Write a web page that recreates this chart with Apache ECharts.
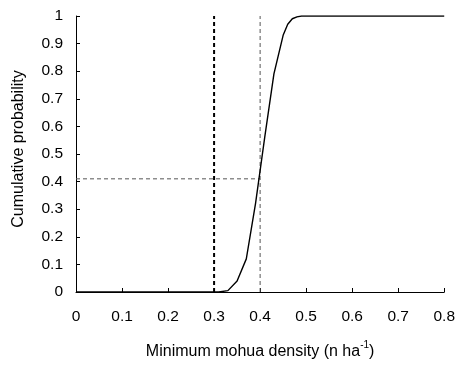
<!DOCTYPE html>
<html>
<head>
<meta charset="utf-8">
<script src="https://cdn.jsdelivr.net/npm/echarts@6/dist/echarts.min.js"></script>
<style>html,body{margin:0;padding:0;background:#fff}#c{width:458px;height:367px}</style>
</head>
<body>
<div id="c"></div>
<script>
// Data
var density = [0, 0.31, 0.33, 0.35, 0.37, 0.39, 0.41, 0.43, 0.45, 0.46, 0.47, 0.48, 0.49, 0.5, 0.6, 0.7, 0.8];
var cumProb = [0, 0, 0.005, 0.04, 0.12, 0.32, 0.56, 0.79, 0.93, 0.97, 0.99, 0.997, 1, 1, 1, 1, 1];
var thresholdX = [0.3, 0.3];
var thresholdY = [0, 1];
var crossX = [0.4, 0.4];
var crossY = [0, 1];
var hLineX = [0, 0.4];
var hLineY = [0.41, 0.41];
var xTicks = ['0', '0.1', '0.2', '0.3', '0.4', '0.5', '0.6', '0.7', '0.8'];
var yTicks = ['0', '0.1', '0.2', '0.3', '0.4', '0.5', '0.6', '0.7', '0.8', '0.9', '1'];

function pairs(xs, ys) { return xs.map(function (x, i) { return [x, ys[i]]; }); }

var chart = echarts.init(document.getElementById('c'), null, { renderer: 'canvas' });
var font = '"Liberation Sans", Arial, sans-serif';
chart.setOption({
  animation: false,
  backgroundColor: '#fff',
  grid: { left: 76, right: 12, top: 16, bottom: 75 },
  xAxis: {
    type: 'value', min: 0, max: 0.8, interval: 0.1,
    name: '{n|Minimum mohua density (n ha}{s|-1}{n|)}',
    nameLocation: 'middle', nameGap: 48,
    nameTextStyle: {
      rich: {
        n: { fontFamily: font, fontSize: 16, color: '#000', verticalAlign: 'bottom', lineHeight: 20 },
        s: { fontFamily: font, fontSize: 10, color: '#000', verticalAlign: 'top', lineHeight: 10 }
      }
    },
    axisLine: { show: true, onZero: false, lineStyle: { color: '#000', width: 1 } },
    axisTick: { show: true, inside: true, length: 4, lineStyle: { color: '#000' } },
    axisLabel: {
      margin: 17, fontFamily: font, fontSize: 15.5, color: '#000',
      formatter: function (v) { return xTicks[Math.round(v * 10)]; }
    },
    splitLine: { show: false }
  },
  yAxis: {
    type: 'value', min: 0, max: 1, interval: 0.1,
    name: 'Cumulative probability',
    nameLocation: 'middle', nameGap: 49,
    nameTextStyle: { fontFamily: font, fontSize: 16, color: '#000', padding: [0, 0, 0, 10] },
    axisLine: { show: true, lineStyle: { color: '#000', width: 1 } },
    axisTick: { show: true, inside: true, length: 4, lineStyle: { color: '#000' } },
    axisLabel: {
      margin: 13, fontFamily: font, fontSize: 15.5, color: '#000',
      formatter: function (v) { return yTicks[Math.round(v * 10)]; }
    },
    splitLine: { show: false }
  },
  series: [
    {
      type: 'line', data: pairs(thresholdX, thresholdY), symbol: 'none',
      lineStyle: { color: '#000', width: 2, type: [4, 3] }, z: 2
    },
    {
      type: 'line', data: pairs(crossX, crossY), symbol: 'none',
      lineStyle: { color: '#555', width: 1, type: [4, 3] }, z: 2
    },
    {
      type: 'line', data: pairs(hLineX, hLineY), symbol: 'none',
      lineStyle: { color: '#555', width: 1, type: [4, 3] }, z: 2
    },
    {
      type: 'line', data: pairs(density, cumProb), symbol: 'none',
      lineStyle: { color: '#000', width: 1.4 }, z: 3
    }
  ]
});
</script>
</body>
</html>
